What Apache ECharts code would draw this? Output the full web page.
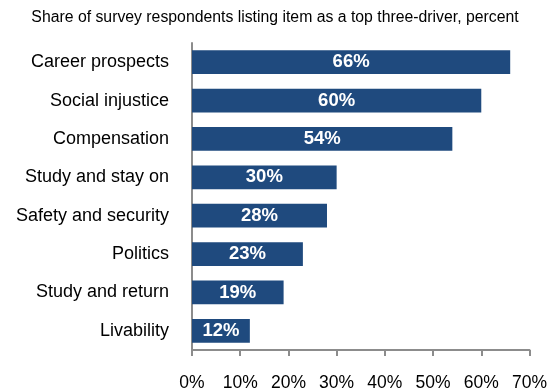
<!DOCTYPE html>
<html>
<head>
<meta charset="utf-8">
<script src="https://cdn.jsdelivr.net/npm/echarts@6/dist/echarts.min.js"></script>
<style>
  html, body { margin: 0; padding: 0; background: #fff; }
  #chart { width: 550px; height: 392px; }
</style>
</head>
<body>
<div id="chart"></div>
<script>
// Drivers, listed top to bottom
const categories = [
  'Career prospects', 'Social injustice', 'Compensation', 'Study and stay on',
  'Safety and security', 'Politics', 'Study and return', 'Livability'
];
// Share of respondents, percent
const shares = [66, 60, 54, 30, 28, 23, 19, 12];
const xTicks = [0, 10, 20, 30, 40, 50, 60, 70];

const chart = echarts.init(document.getElementById('chart'), null, { renderer: 'canvas' });
const font = 'Liberation Sans, Arial, Helvetica, sans-serif';

chart.setOption({
  animation: false,
  title: {
    text: 'Share of survey respondents listing item as a top three-driver, percent',
    left: 'center',
    top: 5,
    textStyle: { fontFamily: font, fontSize: 15.8, fontWeight: 'normal', color: '#000' }
  },
  grid: { left: 192, right: 18, top: 43, bottom: 40 },
  xAxis: {
    type: 'value',
    min: xTicks[0],
    max: xTicks[xTicks.length - 1],
    interval: 10,
    splitLine: { show: false },
    axisLine: { show: true, lineStyle: { color: '#8c8c8c', width: 2 } },
    axisTick: { show: true, length: 6, lineStyle: { color: '#8c8c8c', width: 2 } },
    axisLabel: {
      margin: 24,
      formatter: v => v + '%',
      fontFamily: font, fontSize: 17.5, color: '#000'
    }
  },
  yAxis: {
    type: 'category',
    data: categories,
    inverse: true,
    axisLine: { show: true, lineStyle: { color: '#8c8c8c', width: 2 } },
    axisTick: { show: false },
    axisLabel: { margin: 23, fontFamily: font, fontSize: 18, color: '#000' }
  },
  series: [{
    type: 'bar',
    data: shares,
    barCategoryGap: '38%',
    itemStyle: { color: '#1f4a7e' },
    label: {
      show: true,
      position: 'inside',
      formatter: p => p.value + '%',
      fontFamily: font, fontSize: 18.5, fontWeight: 'bold', color: '#fff'
    }
  }]
});
</script>
</body>
</html>
